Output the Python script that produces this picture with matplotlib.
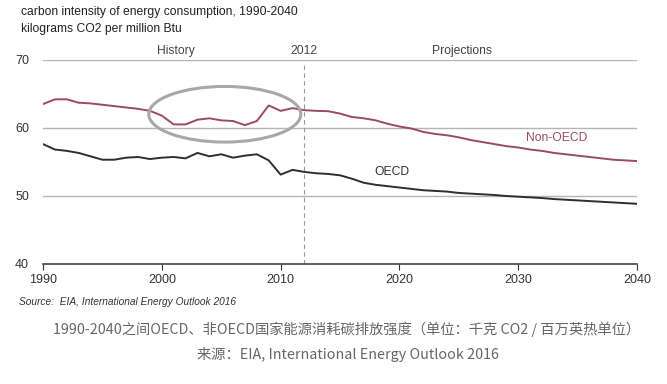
import matplotlib
matplotlib.use('Agg')
import matplotlib.pyplot as plt
from matplotlib.patches import Ellipse

# data
years = list(range(1990, 2041))
non_oecd = [63.5, 64.2, 64.2, 63.7, 63.6, 63.4, 63.2, 63.0, 62.8, 62.5,
            61.8, 60.5, 60.5, 61.2, 61.4, 61.1, 61.0, 60.4, 61.0, 63.3,
            62.5, 62.9, 62.6, 62.5, 62.45, 62.1, 61.6, 61.4, 61.1, 60.6,
            60.2, 59.9, 59.4, 59.1, 58.9, 58.6, 58.2, 57.9, 57.6, 57.3,
            57.1, 56.8, 56.6, 56.3, 56.1, 55.9, 55.7, 55.5, 55.3, 55.2, 55.1]
oecd = [57.6, 56.8, 56.6, 56.3, 55.8, 55.3, 55.3, 55.6, 55.7, 55.4,
        55.6, 55.7, 55.5, 56.3, 55.8, 56.1, 55.6, 55.9, 56.1, 55.2,
        53.1, 53.8, 53.5, 53.3, 53.2, 53.0, 52.5, 51.9, 51.6, 51.4,
        51.2, 51.0, 50.8, 50.7, 50.6, 50.4, 50.3, 50.2, 50.1, 49.95,
        49.85, 49.75, 49.65, 49.5, 49.4, 49.3, 49.2, 49.1, 49.0, 48.9, 48.8]
x_ticks = [1990, 2000, 2010, 2020, 2030, 2040]
y_ticks = [40, 50, 60, 70]

plt.rcParams['font.family'] = ['Liberation Sans', 'DejaVu Sans']

fig = plt.figure(figsize=(6.67, 3.84), dpi=100)
ax = fig.add_axes([0.0645, 0.3138, 0.8905, 0.530])

for y in [50, 60, 70]:
    ax.axhline(y, color='#b5b5b5', lw=1.0, zorder=1)

ax.plot(years, non_oecd, color='#9b4a5f', lw=1.4, zorder=3)
ax.plot(years, oecd, color='#2e2e2e', lw=1.4, zorder=3)

ax.plot([2012, 2012], [40, 69.6], color='#999999', lw=0.8, ls=(0, (4, 3)), zorder=2)

ell = Ellipse((2005.3, 62.0), 12.8, 8.2, fill=False, edgecolor='#a8a8a8', lw=2.2, zorder=4)
ax.add_patch(ell)

ax.set_xlim(1990, 2040)
ax.set_ylim(40, 70)
ax.set_xticks(x_ticks)
ax.set_yticks(y_ticks)
ax.tick_params(axis='y', length=0, labelsize=9, colors='#333333', pad=10)
ax.tick_params(axis='x', length=4, labelsize=9, colors='#333333', direction='out')
for s in ['top', 'right', 'left']:
    ax.spines[s].set_visible(False)
ax.spines['bottom'].set_color('#444444')
ax.spines['bottom'].set_linewidth(1.2)

ax.text(2001.2, 71.3, 'History', ha='center', va='center', fontsize=8.7, color='#444444')
ax.text(2012, 71.3, '2012', ha='center', va='center', fontsize=8.7, color='#444444')
ax.text(2025.3, 71.3, 'Projections', ha='center', va='center', fontsize=8.7, color='#444444')
ax.text(2033.2, 58.5, 'Non-OECD', ha='center', va='center', fontsize=8.7, color='#9b4a5f')
ax.text(2019.4, 53.5, 'OECD', ha='center', va='center', fontsize=8.7, color='#333333')

fig.text(21 / 667, 1 - 12 / 384, 'carbon intensity of energy consumption, 1990-2040',
         fontsize=8.7, color='#222222', va='center')
fig.text(21 / 667, 1 - 29 / 384, 'kilograms CO2 per million Btu',
         fontsize=8.7, color='#222222', va='center')
fig.text(19 / 667, 1 - 302 / 384, 'Source:  EIA, International Energy Outlook 2016',
         fontsize=7.3, style='italic', color='#333333', va='center')

cjk = ['Noto Sans CJK SC', 'DejaVu Sans']
fig.text(0.520, 1 - 329 / 384,
         '1990-2040之间OECD、非OECD国家能源消耗碳排放强度（单位：千克 CO2 / 百万英热单位）',
         fontsize=10.3, color='#666666', ha='center', va='center', family=cjk)
fig.text(0.522, 1 - 355 / 384, '来源：EIA, International Energy Outlook 2016',
         fontsize=10.3, color='#666666', ha='center', va='center', family=cjk)

fig.savefig('out.png', dpi=100)
